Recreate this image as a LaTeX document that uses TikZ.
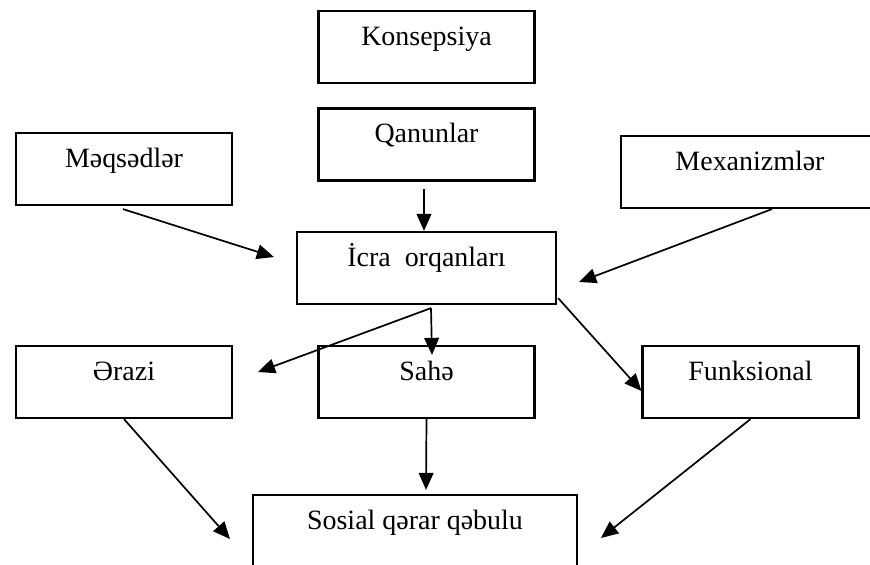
\documentclass[tikz,border=0pt]{standalone}
\usepackage{fontspec}
\setmainfont{Liberation Serif}
\usetikzlibrary{arrows.meta}

\begin{document}
\begin{tikzpicture}[x=0.44pt, y=-0.44pt,
   blok/.style={draw, rectangle, line width=0.95pt, inner xsep=0pt, inner ysep=0pt,
      text height=15pt, text depth=16.7pt, minimum width=95pt, font=\fontsize{12.3}{14}\selectfont},
   ox/.style={line width=0.75pt, -{Triangle[length=7.5pt, width=6.5pt]}}]
   \useasboundingbox (0,0) rectangle (870,565);
   \clip (0,0) rectangle (870,565);
   \node (konsep) [blok] at (426.5,47) {Konsepsiya};
   \node (qanun) [blok] at (426.5,144.5) {Qanunlar};
   \node (meqsed) [blok] at (124,169) {Məqsədlər};
   \node (mexan) [blok, minimum width=113.5pt] at (750,172) {Mexanizmlər};
   \node (icra) [blok, minimum width=114pt] at (426.5,268) {İcra \ orqanları};
   \node (erazi) [blok] at (124,382) {Ərazi};
   \node (sahe) [blok] at (426.5,382) {Sahə};
   \node (funks) [blok] at (750.5,382) {Funksional};
   \node (sosial) [blok, minimum width=142.5pt] at (415,531) {Sosial qərar qəbulu};
   \draw [ox] ([shift={(-2.5,7)}]qanun.south) -- ([shift={(-2.5,0)}]icra.north);
   \draw [ox] ([shift={(-1,3)}]meqsed.south) -- ([shift={(-22,-11)}]icra.west);
   \draw [ox] ([shift={(22,0)}]mexan.south) -- ([shift={(22,14)}]icra.east);
   \draw [ox] ([shift={(4.5,3)}]icra.south) -- ([shift={(25,-10)}]erazi.east);
   \draw [ox] ([shift={(4.5,3)}]icra.south) -- ([shift={(5.5,10)}]sahe.north);
   \draw [ox] ([shift={(1,-7)}]icra.south east) -- ([shift={(0,9)}]funks.west);
   \draw [ox] (erazi.south) -- ([shift={(-22,8)}]sosial.west);
   \draw [ox] (sahe.south) -- ([shift={(11,-4)}]sosial.north);
   \draw [ox] (funks.south) -- ([shift={(23,7)}]sosial.east);
\end{tikzpicture}
\end{document}
